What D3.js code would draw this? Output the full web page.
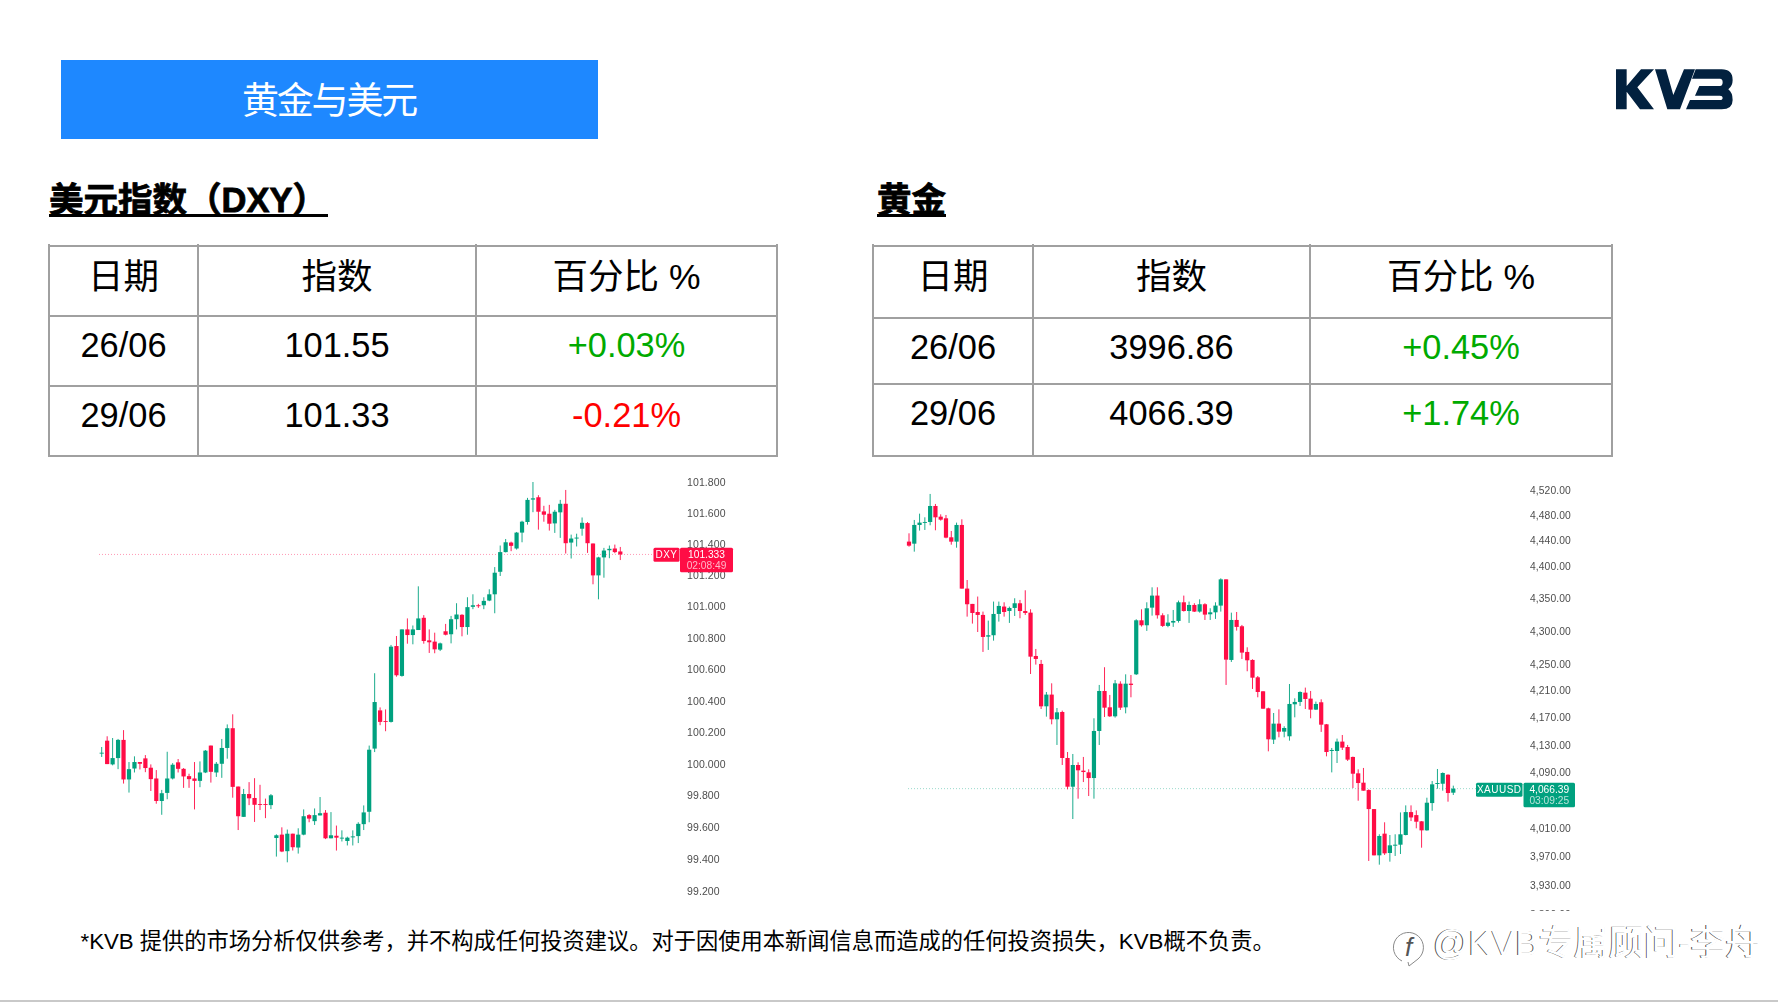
<!DOCTYPE html>
<html lang="zh-CN">
<head>
<meta charset="utf-8">
<title>黄金与美元</title>
<script src="https://cdn.jsdelivr.net/npm/d3@7"></script>
<style>
  html, body { margin: 0; padding: 0; background: #fff; }
  svg { display: block; }
  text { font-family: "Liberation Sans", "Noto Sans CJK SC", sans-serif; }
</style>
</head>
<body>
<svg id="page" width="1778" height="1002"></svg>
<script>
// Slide text
const slideTitle = "黄金与美元";
const dxyHeading = "美元指数（DXY）";
const goldHeading = "黄金";
const disclaimer = "*KVB 提供的市场分析仅供参考，并不构成任何投资建议。对于因使用本新闻信息而造成的任何投资损失，KVB概不负责。";
const handle = "@KVB专属顾问-李舟";

// Summary tables
const tableHeader = ["日期", "指数", "百分比 %"];
const dxyRows = [["26/06", "101.55", "+0.03%"], ["29/06", "101.33", "-0.21%"]];
const goldRows = [["26/06", "3996.86", "+0.45%"], ["29/06", "4066.39", "+1.74%"]];

// Price axis ticks
const dxyTicks = [101.8, 101.6, 101.4, 101.2, 101.0, 100.8, 100.6, 100.4, 100.2, 100.0, 99.8, 99.6, 99.4, 99.2];
const goldTicks = [4520, 4480, 4440, 4400, 4350, 4300, 4250, 4210, 4170, 4130, 4090, 4010, 3970, 3930, 3890];

// Last-price tags
const dxyTag = { symbol: "DXY", price: 101.333, label: "101.333", timer: "02:08:49" };
const goldTag = { symbol: "XAUUSD", price: 4066.39, label: "4,066.39", timer: "03:09:25" };

// Candles as [open, high, low, close]
const dxyCandles = [
[100.067,100.107,100.044,100.071],[100.147,100.175,99.999,99.999],[99.997,100.164,99.991,100.037],[100.037,100.158,99.967,100.152],
[100.152,100.214,99.876,99.902],[99.902,100.012,99.819,99.967],[99.971,100.048,99.946,100.012],[100.012,100.012,99.965,100.001],
[100.035,100.056,99.948,99.974],[99.976,99.997,99.829,99.904],[99.908,99.961,99.749,99.766],[99.766,99.836,99.679,99.815],
[99.817,100.077,99.777,99.908],[99.908,100.005,99.902,99.995],[100.010,100.031,99.946,99.969],[99.969,99.974,99.849,99.921],
[99.923,99.938,99.849,99.904],[99.908,100.012,99.713,99.893],[99.893,100.016,99.853,99.946],[99.946,100.088,99.942,100.084],
[100.116,100.116,99.882,99.950],[99.946,100.012,99.918,100.001],[100.001,100.158,99.912,100.101],[100.101,100.250,100.033,100.226],
[100.226,100.314,99.787,99.855],[99.857,99.857,99.583,99.670],[99.666,99.842,99.666,99.810],[99.810,99.885,99.740,99.783],
[99.785,99.910,99.634,99.742],[99.747,99.868,99.709,99.742],[99.747,99.781,99.658,99.742],[99.740,99.810,99.715,99.802],
[99.533,99.556,99.416,99.550],[99.554,99.600,99.444,99.448],[99.450,99.586,99.380,99.560],[99.560,99.560,99.454,99.475],
[99.473,99.594,99.435,99.554],[99.554,99.713,99.550,99.670],[99.677,99.683,99.632,99.655],[99.639,99.719,99.615,99.677],
[99.675,99.791,99.675,99.689],[99.692,99.709,99.526,99.531],[99.531,99.696,99.531,99.550],[99.547,99.611,99.454,99.535],
[99.531,99.581,99.511,99.535],[99.514,99.541,99.486,99.535],[99.537,99.581,99.486,99.543],[99.545,99.632,99.501,99.622],
[99.620,99.738,99.583,99.694],[99.698,100.116,99.632,100.090],[100.097,100.575,100.075,100.392],[100.339,100.358,100.245,100.266],
[100.271,100.345,100.207,100.266],[100.266,100.755,100.262,100.744],[100.748,100.812,100.553,100.562],[100.558,100.854,100.553,100.854],
[100.854,100.924,100.763,100.818],[100.818,100.879,100.759,100.854],[100.850,101.129,100.850,100.924],[100.928,100.945,100.763,100.780],
[100.784,100.854,100.704,100.772],[100.776,100.833,100.702,100.727],[100.725,100.770,100.716,100.765],[100.842,100.889,100.816,100.820],
[100.823,100.940,100.765,100.919],[100.919,101.021,100.854,100.949],[100.947,100.951,100.810,100.869],[100.869,101.059,100.820,100.996],
[100.998,101.078,100.983,101.008],[101.008,101.017,100.991,101.002],[101.008,101.059,100.983,101.036],[101.038,101.110,101.034,101.078],
[101.078,101.252,100.957,101.216],[101.222,101.390,101.195,101.348],[101.348,101.432,101.346,101.411],[101.409,101.415,101.354,101.388],
[101.371,101.477,101.364,101.473],[101.473,101.549,101.411,101.543],[101.541,101.696,101.524,101.683],[101.685,101.798,101.604,101.693],
[101.700,101.713,101.492,101.607],[101.609,101.645,101.543,101.588],[101.594,101.651,101.486,101.530],[101.532,101.619,101.471,101.607],
[101.603,101.683,101.439,101.658],[101.658,101.747,101.339,101.405],[101.409,101.460,101.307,101.435],[101.435,101.466,101.384,101.441],
[101.498,101.570,101.453,101.536],[101.534,101.541,101.343,101.405],[101.403,101.403,101.142,101.199],[101.199,101.318,101.046,101.314],
[101.314,101.375,101.184,101.358],[101.360,101.390,101.309,101.369],[101.371,101.396,101.341,101.348],[101.352,101.381,101.297,101.333]
];

const goldCandles = [
[4438.1,4451.2,4430.2,4431.8],[4434.9,4472.3,4422.4,4464.4],[4464.4,4482.3,4455.5,4468.1],[4468.1,4476.5,4456.5,4469.1],
[4469.1,4513.7,4463.9,4494.5],[4494.5,4497.7,4456.0,4476.5],[4477.5,4481.2,4471.2,4472.8],[4474.9,4480.2,4443.4,4444.4],
[4444.9,4454.9,4433.3,4438.1],[4438.1,4468.1,4428.6,4464.4],[4464.4,4473.3,4364.9,4364.9],[4364.9,4378.2,4321.8,4340.8],
[4341.3,4341.3,4311.2,4327.4],[4328.9,4352.6,4298.4,4324.4],[4324.4,4329.5,4268.1,4290.8],[4291.3,4315.7,4271.1,4293.4],
[4293.4,4344.9,4285.2,4325.9],[4325.9,4344.9,4314.2,4338.2],[4337.2,4343.8,4321.8,4328.9],[4330.4,4337.2,4312.2,4335.1],
[4335.1,4350.0,4322.8,4342.3],[4342.3,4347.4,4319.3,4330.4],[4330.4,4362.3,4324.4,4327.4],[4327.9,4333.0,4234.9,4261.0],
[4262.0,4272.6,4249.0,4257.5],[4250.0,4256.0,4182.7,4186.7],[4186.7,4208.0,4171.4,4204.1],[4204.1,4220.9,4160.1,4167.5],
[4167.5,4184.2,4129.8,4177.8],[4178.3,4180.3,4100.6,4110.8],[4110.8,4119.5,4065.4,4069.2],[4069.2,4116.6,4022.9,4100.6],
[4100.6,4104.5,4052.0,4092.9],[4092.4,4112.3,4075.9,4090.4],[4089.9,4094.3,4055.8,4081.7],[4081.7,4169.0,4052.0,4150.3],
[4150.3,4218.5,4129.8,4209.5],[4209.5,4245.0,4170.9,4184.7],[4185.2,4203.6,4170.9,4171.9],[4171.9,4225.9,4170.0,4220.9],
[4220.4,4223.9,4181.3,4184.7],[4185.2,4234.4,4176.3,4220.4],[4220.4,4233.4,4200.1,4218.5],[4234.4,4317.8,4233.4,4316.2],
[4316.2,4333.0,4306.6,4308.6],[4308.6,4343.8,4300.0,4334.6],[4335.6,4366.9,4323.3,4354.1],[4354.1,4366.9,4318.8,4323.9],
[4323.9,4326.9,4306.1,4307.6],[4307.6,4325.4,4305.6,4312.7],[4312.7,4332.0,4306.1,4315.2],[4315.2,4346.4,4312.7,4343.8],
[4343.8,4354.1,4329.5,4330.4],[4330.4,4344.9,4312.2,4339.7],[4339.7,4342.3,4328.9,4329.5],[4329.5,4348.4,4327.9,4340.8],
[4340.8,4342.3,4316.7,4324.9],[4325.4,4334.6,4316.7,4328.4],[4328.4,4343.8,4318.3,4338.7],[4338.7,4380.8,4329.5,4379.2],
[4379.2,4379.2,4218.5,4256.5],[4256.0,4327.9,4253.0,4316.7],[4316.7,4328.9,4300.5,4306.1],[4307.1,4309.1,4257.5,4267.1],
[4268.1,4275.1,4239.0,4255.5],[4256.0,4257.0,4212.5,4229.4],[4229.9,4231.9,4200.1,4208.0],[4209.0,4209.0,4183.2,4183.2],
[4183.7,4184.7,4120.5,4138.1],[4137.6,4176.8,4131.2,4161.1],[4161.1,4182.2,4141.0,4149.3],[4149.3,4157.2,4141.0,4154.7],
[4142.5,4219.9,4136.1,4190.2],[4189.7,4198.6,4170.4,4193.2],[4193.2,4209.0,4187.2,4208.0],[4207.0,4214.5,4182.7,4197.6],
[4198.1,4209.5,4169.0,4181.8],[4181.8,4193.7,4181.3,4190.2],[4192.7,4197.1,4148.9,4159.6],[4160.1,4160.6,4113.2,4119.5],
[4121.0,4125.4,4089.9,4122.5],[4121.0,4139.1,4103.5,4134.7],[4134.7,4144.4,4122.5,4125.9],[4126.8,4129.8,4106.4,4108.4],
[4112.3,4112.8,4067.3,4088.0],[4088.5,4094.3,4049.1,4074.5],[4075.0,4096.3,4063.5,4063.5],[4064.4,4065.4,3963.6,4037.1],
[4037.1,4037.1,3971.5,3971.5],[3971.5,4001.2,3958.4,3998.8],[4002.1,4018.2,3972.0,3974.3],[3974.8,4000.2,3962.6,3985.6],
[3985.1,4001.2,3970.6,3986.5],[3986.5,4032.3,3973.4,4001.2],[4000.2,4042.4,3999.7,4032.8],[4032.8,4042.4,4020.0,4025.2],
[4028.5,4035.2,4009.7,4019.1],[4019.6,4020.0,3982.3,4006.8],[4006.8,4053.4,4006.3,4046.2],[4045.7,4077.4,4034.7,4072.6],
[4073.1,4094.8,4066.3,4074.5],[4073.5,4089.9,4063.5,4089.0],[4086.5,4087.0,4047.7,4060.1],[4060.6,4070.7,4057.3,4066.39]
];

const UP = "#05a17f", DOWN = "#ff0a45", GRID = "#a0a0a0";
const NAVY = "#02213f", BLUE = "#1e88ff";
const svg = d3.select("#page");

// Soft edge used by the two pasted chart panels
const defs = svg.append("defs");
defs.append("filter").attr("id", "soft").attr("x", "-2%").attr("y", "-2%").attr("width", "104%").attr("height", "104%")
  .append("feGaussianBlur").attr("stdDeviation", 0.3);

// Header band
svg.append("rect").attr("x", 61).attr("y", 60).attr("width", 537).attr("height", 79).attr("fill", BLUE);
svg.append("text").attr("x", 329).attr("y", 114).attr("text-anchor", "middle")
  .attr("font-size", 37).attr("letter-spacing", -2.2).attr("fill", "#fff").text(slideTitle);

// Brand mark
const logo = svg.append("g").attr("transform", "translate(1580,50) scale(0.3333)").attr("fill", NAVY);
logo.append("path").attr("d", "M108,58H140V108L183,58H222L172,112L222,178H180L140,125V178H108Z");
logo.append("path").attr("d", "M225,58H258L280,135L312,58H345L300,178H262Z");
logo.append("path").attr("d", "M347,58H425Q458,58 458,90Q458,108 445,118Q458,128 458,150Q458,178 425,178H318L330,150H420Q428,150 428,143Q428,137 420,137H345L358,108H420Q428,108 428,97Q428,86 420,86H336Z");

// Underlined section headings, thickened to the slide's heavy weight
function heading(text, x, y, x2, lineY) {
  svg.append("text").attr("x", x).attr("y", y).attr("font-size", 34.5)
    .attr("font-weight", 700).attr("fill", "#000").attr("stroke", "#000").attr("stroke-width", 0.8).text(text);
  svg.append("rect").attr("x", x).attr("y", lineY).attr("width", x2 - x).attr("height", 3).attr("fill", "#000");
}
heading(dxyHeading, 49, 212, 328, 214);
heading(goldHeading, 877, 212, 946, 214);

// Summary table: column and row edges are given per table
function drawTable(colEdges, rowEdges, rows, rowBaselines) {
  const g = svg.append("g");
  colEdges.forEach(x => g.append("line").attr("x1", x).attr("x2", x)
    .attr("y1", rowEdges[0] - 2).attr("y2", rowEdges[rowEdges.length - 1] + 1)
    .attr("stroke", GRID).attr("stroke-width", 2));
  rowEdges.forEach(y => g.append("line").attr("x1", colEdges[0] - 1).attr("x2", colEdges[colEdges.length - 1] + 1)
    .attr("y1", y).attr("y2", y).attr("stroke", GRID).attr("stroke-width", 2));
  const mid = i => (colEdges[i] + colEdges[i + 1]) / 2;
  tableHeader.forEach((t, i) => g.append("text").attr("x", mid(i)).attr("y", 289)
    .attr("text-anchor", "middle").attr("font-size", 35.5).attr("fill", "#000").text(t));
  rows.forEach((row, r) => row.forEach((t, i) => g.append("text").attr("x", mid(i)).attr("y", rowBaselines[r])
    .attr("text-anchor", "middle").attr("font-size", 34.4)
    .attr("fill", i < 2 ? "#000" : (t[0] === "+" ? "#00aa00" : "#ff0000")).text(t)));
}
drawTable([49, 198, 476, 777], [246, 316, 386, 456], dxyRows, [357, 427]);
drawTable([873, 1033, 1310, 1612], [246, 318, 384, 456], goldRows, [359, 425]);

// Candlestick panel on a logarithmic price scale
function drawPanel(cfg) {
  const x = d3.scaleLinear().domain([0, cfg.candles.length - 1]).range(cfg.xRange);
  const y = d3.scaleLog().domain(cfg.yDomain).range(cfg.yRange);
  const g = svg.append("g").attr("filter", "url(#soft)");

  const axis = d3.axisRight(y).tickValues(cfg.ticks).tickSize(0).tickPadding(0).tickFormat(cfg.format);
  const axisG = g.append("g").attr("transform", `translate(${cfg.axisX},0)`).call(axis);
  axisG.select(".domain").remove();
  axisG.selectAll("text").attr("font-size", cfg.axisSize).attr("letter-spacing", 0.1).attr("fill", "#4d4d4d")
    .style("font-family", '"Liberation Sans", sans-serif');
  // The panel crop cuts through the lowest axis label
  if (cfg.axisClip) axisG.attr("clip-path", `url(#${cfg.axisClip})`);

  const tagColor = cfg.tagColor;
  g.append("line").attr("x1", cfg.lineStart).attr("x2", cfg.tag.symbolX)
    .attr("y1", y(cfg.tag.price)).attr("y2", y(cfg.tag.price))
    .attr("stroke", tagColor).attr("stroke-opacity", 0.4).attr("stroke-dasharray", "1 2");

  const candle = g.selectAll(".candle").data(cfg.candles).join("g").attr("class", "candle");
  const colorOf = d => d[3] >= d[0] ? UP : DOWN;
  candle.append("line")
    .attr("x1", (d, i) => x(i)).attr("x2", (d, i) => x(i))
    .attr("y1", d => y(d[1])).attr("y2", d => y(d[2]))
    .attr("stroke", colorOf).attr("stroke-width", 0.9);
  candle.append("rect")
    .attr("x", (d, i) => x(i) - 2.1).attr("width", 4.2)
    .attr("y", d => y(Math.max(d[0], d[3])))
    .attr("height", d => Math.max(0.9, Math.abs(y(d[0]) - y(d[3]))))
    .attr("fill", colorOf);

  // Symbol and last-price tags sit above the axis labels
  const t = cfg.tag;
  g.append("rect").attr("x", t.symbolX).attr("y", t.top).attr("width", t.symbolW).attr("height", 14)
    .attr("rx", 1.5).attr("fill", tagColor);
  g.append("text").attr("x", t.symbolX + t.symbolW / 2).attr("y", t.top + 10.6).attr("text-anchor", "middle")
    .attr("font-size", 10).attr("letter-spacing", 0.5).attr("fill", "#fff").text(t.symbol);
  g.append("rect").attr("x", t.valueX).attr("y", t.top).attr("width", t.valueW).attr("height", 24.5)
    .attr("rx", 1.5).attr("fill", tagColor);
  g.append("text").attr("x", t.valueX + t.valueW / 2).attr("y", t.top + 10.3).attr("text-anchor", "middle")
    .attr("font-size", 10.2).attr("fill", "#fff").text(t.label);
  g.append("text").attr("x", t.valueX + t.valueW / 2).attr("y", t.top + 21.3).attr("text-anchor", "middle")
    .attr("font-size", 10.2).attr("fill", "#fff").attr("fill-opacity", 0.7).text(t.timer);
}

defs.append("clipPath").attr("id", "goldAxisCrop").append("rect")
  .attr("x", -10).attr("y", 470).attr("width", 80).attr("height", 441);

drawPanel({
  candles: dxyCandles, ticks: dxyTicks,
  xRange: [101.7, 620.3], yDomain: [99.2, 101.8], yRange: [891, 481.7],
  axisX: 687, axisSize: 10.5, format: d3.format(".3f"), lineStart: 99, tagColor: DOWN,
  tag: { ...dxyTag, symbolX: 653.5, symbolW: 26, valueX: 680, valueW: 53, top: 547.7 }
});

drawPanel({
  candles: goldCandles, ticks: goldTicks,
  xRange: [909, 1453.3], yDomain: [3930, 4520], yRange: [885, 490],
  axisX: 1530, axisSize: 10.3, format: d3.format(",.2f"), lineStart: 908, tagColor: UP, axisClip: "goldAxisCrop",
  tag: { ...goldTag, symbolX: 1476, symbolW: 46.5, valueX: 1523.5, valueW: 51.5, top: 782.7 }
});

// Disclaimer
svg.append("text").attr("x", 80.5).attr("y", 949).attr("font-size", 22.25).attr("fill", "#000").text(disclaimer);

// Embossed handle with chat-bubble mark
const emboss = svg.append("g");
[["#4a4a4a", -0.9, -0.5], ["#ffffff", 0, 0]].forEach(([c, dx, dy]) => {
  emboss.append("text").attr("x", 1433 + dx).attr("y", 955 + dy).attr("font-size", 35)
    .attr("fill", c).text(handle);
});
emboss.append("path")
  .attr("d", "M1402,961 A15,15 0 1 1 1418,959 L1409,966 L1408,962")
  .attr("fill", "none").attr("stroke", "#8a8a8a").attr("stroke-width", 1);
emboss.append("text").attr("x", 1405).attr("y", 956).attr("font-size", 26).attr("font-style", "italic")
  .attr("fill", "#555").text("f");

// Slide bottom edge
svg.append("rect").attr("x", 0).attr("y", 1000).attr("width", 1778).attr("height", 2).attr("fill", "#c9c9c9");
</script>
</body>
</html>
